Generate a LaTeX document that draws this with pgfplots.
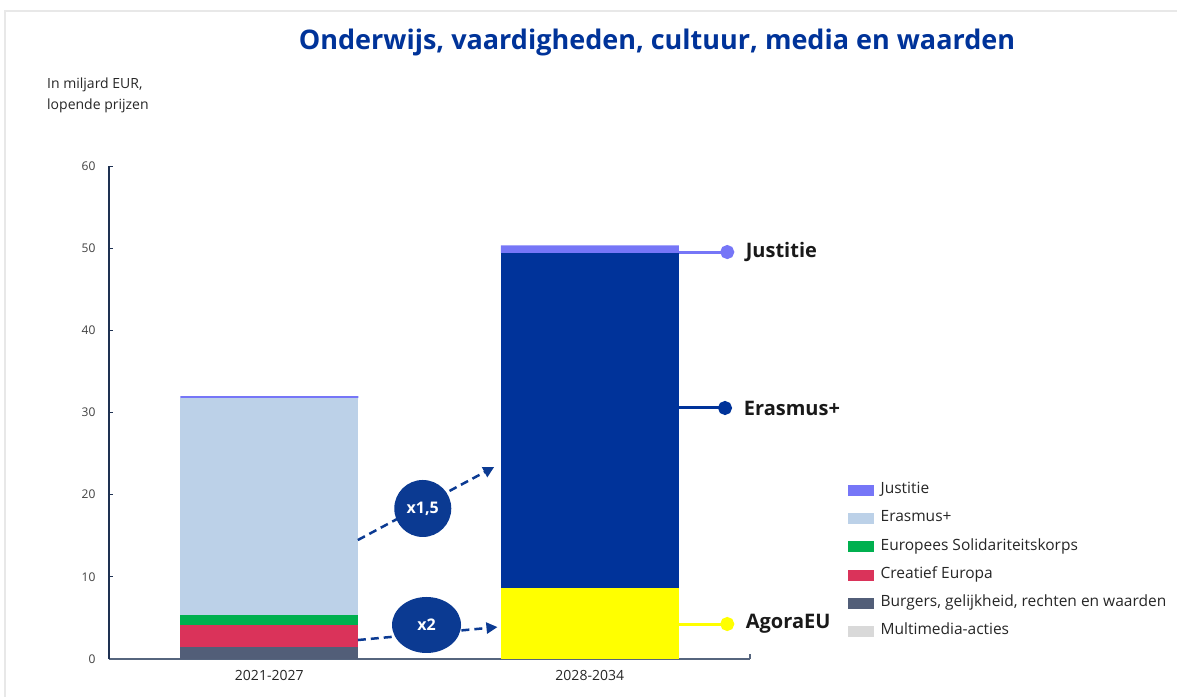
\documentclass[border=0pt]{standalone}
\usepackage{fontspec}
\setmainfont{Open Sans}
\usepackage{pgfplots}
\pgfplotsset{compat=1.18}
\usetikzlibrary{arrows.meta,shapes.geometric}
\definecolor{eublue}{HTML}{003399}
\definecolor{bubble}{HTML}{0B3A92}
\definecolor{justcol}{HTML}{7676F7}
\definecolor{erasl}{HTML}{BCD1E8}
\definecolor{erasd}{HTML}{00339A}
\definecolor{esccol}{HTML}{00B04F}
\definecolor{crecol}{HTML}{DA335A}
\definecolor{cervcol}{HTML}{525E78}
\definecolor{mmcol}{HTML}{D9D9D9}
\definecolor{agoracol}{HTML}{FFFF00}
\definecolor{ycol}{HTML}{1E3152}
\definecolor{xcol}{HTML}{56657E}
\pgfplotsset{
  legrect/.style={legend image code/.code={\fill[#1] (0pt,-5pt) rectangle (25pt,5pt);}},
  frame/.style={at={(109pt,-659pt)}, anchor=south west,
    scale only axis, width=641pt, height=493pt,
    xmin=-0.5, xmax=1.5, ymin=0, ymax=60, clip=false},
}
\begin{document}
\begin{tikzpicture}[x=1pt,y=1pt]
\useasboundingbox (0,0) rectangle (1177,-697);
% screenshot frame
\draw[gray!18, line width=1.5pt] (5,-697) -- (5,-11) -- (1177,-11);
\node[font=\bfseries\fontsize{27}{31}\selectfont, text=eublue] at (657,-42)
  {Onderwijs, vaardigheden, cultuur, media en waarden};
\node[anchor=north west, align=left, text=black!85, font=\fontsize{14}{21}\selectfont, inner sep=0pt]
  at (47,-78) {In miljard EUR,\\lopende prijzen};
\begin{axis}[
  frame,
  axis lines*=left,
  x axis line style={color=xcol, line width=1.3pt},
  y axis line style={color=ycol, line width=1.3pt},
  ybar stacked, bar width=178pt,
  xtick={0,1}, xticklabels={2021-2027,2028-2034},
  ytick={0,10,...,60},
  tick align=inside, major tick length=4pt,
  xtick style={draw=none},
  ytick style={color=ycol, line width=1pt},
  /pgf/number format/assume math mode=true,
  yticklabel style={font=\fontsize{12}{14}\selectfont, text=black!75, anchor=east, xshift=-10pt},
  xticklabel style={font=\fontsize{14}{16}\selectfont, text=black!85, yshift=-8pt},
  legend cell align=left,
  legend style={at={(1.153,0.356)}, anchor=north west, draw=none, fill=none,
    inner sep=0pt, row sep=15.2pt,
    font=\fontsize{15.5}{17}\selectfont, text=black!85,
    nodes={inner sep=0pt, text height=10pt, text depth=3pt},
    /tikz/every odd column/.append style={column sep=7pt}},
]
% stacked bars: x=0 -> 2021-2027, x=1 -> 2028-2034
\addplot[fill=cervcol, draw=none, forget plot] coordinates {(0,1.45)(1,0)};
\addplot[fill=crecol, draw=none, forget plot] coordinates {(0,2.75)(1,0)};
\addplot[fill=esccol, draw=none, forget plot] coordinates {(0,1.15)(1,0)};
\addplot[fill=agoracol, draw=none, forget plot] coordinates {(0,0)(1,8.6)};
\addplot[fill=erasl, draw=none, forget plot] coordinates {(0,26.4)(1,0)};
\addplot[fill=erasd, draw=none, forget plot] coordinates {(0,0)(1,40.8)};
\addplot[fill=justcol, draw=none, forget plot] coordinates {(0,0.25)(1,0.95)};
% legend
\addlegendimage{legrect=justcol}\addlegendentry{Justitie}
\addlegendimage{legrect=erasl}\addlegendentry{Erasmus+}
\addlegendimage{legrect=esccol}\addlegendentry{Europees Solidariteitskorps}
\addlegendimage{legrect=crecol}\addlegendentry{Creatief Europa}
\addlegendimage{legrect=cervcol}\addlegendentry{Burgers, gelijkheid, rechten en waarden}
\addlegendimage{legrect=mmcol}\addlegendentry{Multimedia-acties}
% tick at the end of the x axis
\draw[xcol, line width=1.3pt] (rel axis cs:1,0) -- ++(0pt,5pt);
\end{axis}
% overlay axis (same frame) for leader lines and growth bubbles
\begin{axis}[frame, hide axis]
\addplot[justcol, line width=3pt, mark=*, mark size=5.5pt, mark indices={2}]
  coordinates {(1.277,49.53)(1.429,49.53)};
\addplot[erasd, line width=3pt, mark=*, mark size=5.5pt, mark indices={2}]
  coordinates {(1.277,30.55)(1.422,30.55)};
\addplot[agoracol, line width=3pt, mark=*, mark size=5.5pt, mark indices={2}]
  coordinates {(1.277,4.26)(1.429,4.26)};
\node[anchor=west, font=\bfseries\fontsize{20}{23}\selectfont, text=black!90] at (axis cs:1.476,49.53) {Justitie};
\node[anchor=west, font=\bfseries\fontsize{20}{23}\selectfont, text=black!90] at (axis cs:1.470,30.55) {Erasmus+};
\node[anchor=west, font=\bfseries\fontsize{20}{23}\selectfont, text=black!90] at (axis cs:1.476,4.26) {AgoraEU};
% growth arrows
\draw[bubble, line width=2.5pt, dash pattern=on 8pt off 5pt, -{Triangle[length=11pt,width=11pt]}]
  (axis cs:0.2764,14.48) -- (axis cs:0.7019,23.37);
\draw[bubble, line width=2.5pt, dash pattern=on 8pt off 5pt, -{Triangle[length=11pt,width=11pt]}]
  (axis cs:0.2764,2.31) -- (axis cs:0.712,3.89);
\node[circle, fill=bubble, minimum size=57pt, inner sep=0pt, text=white,
  font=\bfseries\fontsize{16}{18}\selectfont] at (axis cs:0.479,18.32) {x1,5};
\node[ellipse, fill=bubble, minimum width=69pt, minimum height=56pt, inner sep=0pt, text=white,
  font=\bfseries\fontsize{16}{18}\selectfont] at (axis cs:0.4907,4.14) {x2};
\end{axis}
\end{tikzpicture}
\end{document}
